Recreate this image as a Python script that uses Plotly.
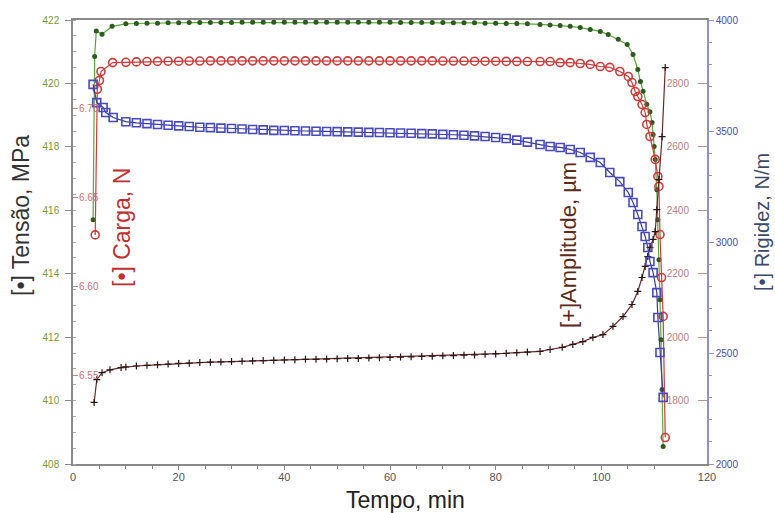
import plotly.graph_objects as go

# ---------------- data ----------------
# common plateau time grid (min)
t_plateau = [10, 12, 14, 16, 18, 20, 22, 24, 26, 28, 30, 32, 34, 36, 38, 40, 42, 44, 46, 48,
             50, 52, 54, 56, 58, 60, 62, 64, 66, 68, 70, 72, 74, 76, 78, 80, 82, 84, 86]

# Tensão, MPa
tensao_t_start = [3.8, 4.1, 4.4, 5.5, 7.4]
tensao_v_start = [415.7, 420.85, 421.65, 421.55, 421.8]
tensao_v_plateau = [421.88, 421.89, 421.90, 421.90, 421.91, 421.91, 421.92, 421.92, 421.92, 421.92,
                    421.92, 421.93, 421.93, 421.93, 421.93, 421.93, 421.93, 421.93, 421.93, 421.93,
                    421.93, 421.93, 421.93, 421.93, 421.93, 421.93, 421.92, 421.92, 421.92, 421.92,
                    421.92, 421.91, 421.91, 421.91, 421.90, 421.90, 421.89, 421.89, 421.88]
tensao_t_end = [88.4, 90.3, 92.2, 94.1, 96.0, 97.9, 99.8, 101.3, 103.2, 104.9, 106.0, 106.9, 107.4,
                107.9, 108.6, 109.2, 109.6, 109.8, 110.0, 110.2, 110.5, 110.7, 110.9, 111.1, 111.3,
                111.5, 111.7]
tensao_v_end = [421.86, 421.84, 421.83, 421.80, 421.76, 421.70, 421.64, 421.54, 421.39, 421.23,
                420.91, 420.44, 420.06, 419.75, 419.34, 419.11, 418.77, 418.39, 418.01, 417.60,
                416.65, 415.70, 414.44, 413.18, 411.92, 410.35, 408.55]

# Carga, N
carga_t_start = [4.2, 4.6, 5.0, 5.3, 7.5]
carga_v_start = [6.629, 6.711, 6.716, 6.721, 6.726]
carga_v_plateau = [6.7262, 6.7264, 6.7266, 6.7267, 6.7268, 6.7268, 6.7269, 6.7269, 6.727, 6.727,
                   6.727, 6.727, 6.727, 6.727, 6.727, 6.727, 6.727, 6.727, 6.727, 6.727,
                   6.727, 6.727, 6.727, 6.727, 6.727, 6.727, 6.727, 6.727, 6.727, 6.727,
                   6.7269, 6.7269, 6.7269, 6.7268, 6.7268, 6.7268, 6.7267, 6.7267, 6.7266]
carga_t_end = [88.4, 90.3, 92.2, 94.1, 96.0, 97.9, 99.8, 101.6, 103.5, 105.1, 105.8, 106.4, 106.9,
               107.7, 108.3, 108.6, 109.2, 110.2, 110.7, 110.9, 111.1, 111.4, 111.7, 112.1]
carga_v_end = [6.7266, 6.7266, 6.726, 6.726, 6.7255, 6.725, 6.7238, 6.7233, 6.721, 6.7182, 6.7148,
               6.7097, 6.7069, 6.7024, 6.6979, 6.6912, 6.6844, 6.6715, 6.6619, 6.6563, 6.6292,
               6.605, 6.5831, 6.5149]

# Rigidez, N/m
rigidez_t_start = [3.8, 4.5, 5.7, 6.2, 7.6]
rigidez_v_start = [3710, 3628, 3606, 3583, 3561]
rigidez_v_plateau = [3542, 3537, 3533, 3529, 3526, 3523, 3520, 3517, 3515, 3513,
                     3511, 3509, 3507, 3505, 3503, 3502, 3501, 3500, 3499, 3498,
                     3497, 3496, 3495, 3494, 3493, 3492, 3491, 3490, 3488, 3487,
                     3485, 3483, 3481, 3478, 3475, 3471, 3466, 3459, 3450]
rigidez_t_end = [88.4, 90.3, 92.2, 94.1, 96.0, 97.9, 99.8, 101.6, 103.5, 105.1, 106.0, 106.9,
                 107.7, 108.3, 108.8, 109.2, 109.8, 110.5, 110.7, 111.1, 111.7]
rigidez_v_end = [3439, 3430, 3426, 3417, 3403, 3381, 3358, 3313, 3272, 3223, 3178, 3124, 3070,
                 3025, 2975, 2912, 2862, 2772, 2660, 2502, 2300]

# Amplitude, µm
amp_t_start = [4.0, 4.5, 5.5, 7.0, 9.1]
amp_v_start = [1794, 1866, 1888, 1897, 1904]
amp_v_plateau = [1906, 1909, 1911, 1913, 1915, 1917, 1918, 1920, 1921, 1922,
                 1923, 1924, 1925, 1926, 1927, 1928, 1929, 1930, 1930, 1931,
                 1932, 1933, 1933, 1934, 1935, 1936, 1937, 1938, 1939, 1940,
                 1941, 1942, 1943, 1944, 1946, 1947, 1949, 1951, 1953]
amp_t_end = [88.4, 90.3, 92.6, 94.6, 96.5, 98.4, 100.3, 102.2, 104.1, 105.8, 106.9, 107.7, 108.3,
             108.8, 109.2, 109.8, 110.2, 110.5, 110.9, 111.5, 112.1]
amp_v_end = [1955, 1961, 1968, 1977, 1986, 1999, 2008, 2034, 2065, 2103, 2144, 2188, 2223, 2254,
             2283, 2308, 2333, 2402, 2497, 2632, 2850]

x_ticks = [0, 20, 40, 60, 80, 100, 120]
tensao_ticks = [408, 410, 412, 414, 416, 418, 420, 422]
carga_ticks = [6.55, 6.60, 6.65, 6.70]
carga_ticktext = ["6.55", "6.60", "6.65", "6.70"]
amp_ticks = [1800, 2000, 2200, 2400, 2600, 2800]
rigidez_ticks = [2000, 2500, 3000, 3500, 4000]

# ---------------- figure ----------------
FONT = "Liberation Sans, Arial, sans-serif"
W, H = 775, 513
ML, MR, MT, MB = 73, 68, 20, 49
PW, PH = W - ML - MR, H - MT - MB


def px(xp):
    return (xp - ML) / PW


def py(yp):
    return (H - MB - yp) / PH


fig = go.Figure()

fig.add_trace(go.Scatter(
    x=tensao_t_start + t_plateau + tensao_t_end,
    y=tensao_v_start + tensao_v_plateau + tensao_v_end,
    mode="lines+markers", yaxis="y",
    line=dict(color="#5aa83a", width=1.2),
    marker=dict(symbol="circle", size=5, color="#2d5a1e"),
    showlegend=False))

# invisible carrier for the x tick-label axis
fig.add_trace(go.Scatter(
    x=t_plateau, y=tensao_v_plateau, xaxis="x2", yaxis="y",
    mode="lines", opacity=0, hoverinfo="skip", showlegend=False))

fig.add_trace(go.Scatter(
    x=carga_t_start + t_plateau + carga_t_end,
    y=carga_v_start + carga_v_plateau + carga_v_end,
    mode="lines+markers", yaxis="y2",
    line=dict(color="#d03a3a", width=1.2),
    marker=dict(symbol="circle-open", size=8, color="#d03a3a", line=dict(width=1.6)),
    showlegend=False))

fig.add_trace(go.Scatter(
    x=rigidez_t_start + t_plateau + rigidez_t_end,
    y=rigidez_v_start + rigidez_v_plateau + rigidez_v_end,
    mode="lines+markers", yaxis="y4",
    line=dict(color="#3a3a9a", width=1.2),
    marker=dict(symbol="square-open", size=8, color="#4a4ac0", line=dict(width=1.6)),
    showlegend=False))

fig.add_trace(go.Scatter(
    x=amp_t_start + t_plateau + amp_t_end,
    y=amp_v_start + amp_v_plateau + amp_v_end,
    mode="lines+markers", yaxis="y3",
    line=dict(color="#6a2a2a", width=1.2),
    marker=dict(symbol="cross-thin-open", size=5, color="#2a1414", line=dict(width=1.2, color="#2a1414")),
    showlegend=False))

axis_line = "#8a8a8a"

fig.update_layout(
    width=W, height=H,
    margin=dict(l=ML, r=MR, t=MT, b=MB, pad=0),
    paper_bgcolor="white", plot_bgcolor="white",
    font=dict(family=FONT, size=10, color="#555"),
    xaxis=dict(range=[0, 120], tickvals=x_ticks, showgrid=False, zeroline=False,
               showline=True, linecolor=axis_line, linewidth=1.5, mirror=True,
               ticks="outside", ticklen=4, tickcolor=axis_line, showticklabels=False,
               minor=dict(dtick=5, ticks="outside", ticklen=3, tickcolor=axis_line)),
    xaxis2=dict(range=[0, 120], tickvals=x_ticks, overlaying="x", anchor="y", side="bottom",
                showgrid=False, zeroline=False, showline=False, ticks="",
                ticklabelstandoff=5,
                tickfont=dict(size=11, color="#555", family=FONT)),
    yaxis=dict(range=[408, 422], tickvals=tensao_ticks, showgrid=False, zeroline=False,
               showline=True, linecolor=axis_line, linewidth=1.5,
               ticks="outside", ticklen=6, tickcolor=axis_line, ticklabelstandoff=4,
               minor=dict(dtick=0.5, ticks="inside", ticklen=3, tickcolor="#aaaaaa"),
               tickfont=dict(size=10, color="#7a9a30", family=FONT)),
    yaxis2=dict(range=[6.5, 6.75], tickvals=carga_ticks, ticktext=carga_ticktext,
                overlaying="y", side="left", anchor="x",
                showgrid=False, zeroline=False, showline=False,
                ticks="inside", ticklen=5, tickcolor="#d08080",
                ticklabelposition="inside",
                tickfont=dict(size=10, color="#d07070", family=FONT)),
    yaxis3=dict(range=[1600, 3000], tickvals=amp_ticks,
                overlaying="y", side="right", anchor="x",
                showgrid=False, zeroline=False, showline=False,
                ticks="inside", ticklen=9, tickcolor="#c09090",
                ticklabelposition="inside", ticklabelstandoff=8,
                tickfont=dict(size=10, color="#c08080", family=FONT)),
    yaxis4=dict(range=[2000, 4000], tickvals=rigidez_ticks,
                overlaying="y", side="right", anchor="x",
                showgrid=False, zeroline=False,
                showline=True, linecolor="#9090c8", linewidth=1.5,
                ticks="outside", ticklen=5, tickcolor="#9090c8",
                minor=dict(dtick=100, ticks="outside", ticklen=3, tickcolor="#9090c8"),
                tickfont=dict(size=10, color="#4a4ab8", family=FONT)),
)

titles = [
    ("[•] Tensão, MPa", 21, 216, "#333333", 23),
    ("[•] Carga, N", 122, 228, "#c03030", 23),
    ("[+]Amplitude, µm", 568, 245, "#5a2a1a", 22),
    ("[•] Rigidez, N/m", 762, 222, "#3a4a6a", 20),
]
for text, xp, yp, col, size in titles:
    fig.add_annotation(text=text, x=px(xp), y=py(yp), xref="paper", yref="paper",
                       textangle=-90, showarrow=False, xanchor="center", yanchor="middle",
                       font=dict(family=FONT, size=size, color=col))

fig.add_annotation(text="Tempo, min", x=px(405), y=py(500), xref="paper", yref="paper",
                   showarrow=False, xanchor="center", yanchor="middle",
                   font=dict(family=FONT, size=23, color="#222222"))

fig.write_html("out.html")
